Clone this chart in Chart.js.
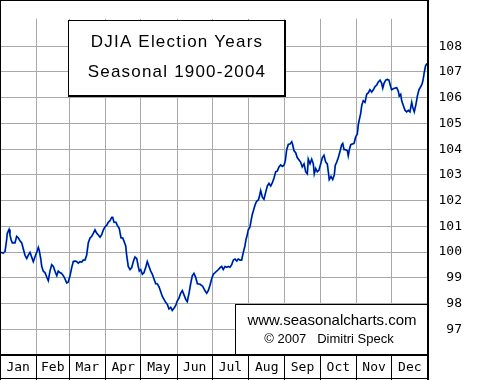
<!DOCTYPE html>
<html><head><meta charset="utf-8">
<script src="https://cdn.jsdelivr.net/npm/chart.js@4"></script>
<style>html,body{margin:0;padding:0;background:#fff;overflow:hidden}</style>
</head><body>
<canvas id="c" width="480" height="380"></canvas>
<script>
const monthLabels = ['Jan','Feb','Mar','Apr','May','Jun','Jul','Aug','Sep','Oct','Nov','Dec'];
const monthStarts = [0,31,59,90,120,151,181,212,243,273,304,334,365];
const yTickValues = [97,98,99,100,101,102,103,104,105,106,107,108];
const titleLines = ['DJIA Election Years','Seasonal 1900-2004'];
const creditLines = ['www.seasonalcharts.com','\u00A9 2007   Dimitri Speck'];

const days = [0.9,2.8,4.3,5.7,6.2,7.7,8.5,9.4,10.5,12.8,14.2,15.6,17.1,18.5,19.9,21.3,22.8,24.1,25.6,27.0,
28.4,29.8,31.3,32.7,33.5,34.7,35.6,36.9,38.4,39.8,41.2,42.6,44.1,45.5,46.9,48.4,49.7,51.2,52.6,54.0,
55.4,56.9,58.2,59.7,61.1,62.5,64.0,65.4,66.8,68.2,69.7,71.0,72.5,73.9,75.3,76.8,78.2,79.6,81.0,82.5,
83.8,85.3,86.7,88.1,89.5,91.0,92.4,93.8,95.3,
96.1,97.2,98.9,100.0,101.7,103.2,104.6,105.7,107.2,108.0,109.4,110.9,112.3,113.7,115.1,116.6,117.9,118.8,120.0,121.4,
122.8,124.5,125.6,127.1,128.5,129.9,131.3,132.8,134.1,135.6,137.0,138.4,139.9,141.3,142.7,144.1,145.6,146.9,148.4,149.8,
151.2,152.7,154.1,155.5,156.9,158.4,159.7,161.2,162.6,164.0,165.4,166.9,168.3,170.6,172.9,174.8,176.3,177.6,179.1,180.5,
181.9,183.4,184.8,186.2,187.6,189.1,190.4,191.9,193.3,194.7,196.1,197.6,199.0,200.4,201.9,203.2,204.7,
206.1,207.5,208.9,209.8,210.9,211.7,213.2,214.1,215.2,216.0,217.5,218.9,220.3,221.1,222.3,223.7,225.1,226.6,228.0,229.4,
230.9,232.2,233.7,235.1,236.5,237.9,239.4,240.7,242.2,243.3,244.5,245.9,247.3,248.8,249.6,250.7,252.2,253.5,255.0,256.4,
257.8,259.3,260.7,262.1,262.9,264.4,265.8,267.2,268.0,269.2,270.6,272.0,273.5,274.9,276.3,277.8,279.1,280.0,280.8,282.3,
283.7,285.1,285.9,287.1,288.5,290.0,291.4,292.3,293.4,294.8,296.2,297.0,297.9,299.1,300.4,301.9,303.3,304.7,305.6,306.4,
307.6,
308.5,309.8,311.3,312.7,314.1,315.5,317.0,318.4,319.8,321.2,322.6,324.1,325.5,326.4,327.5,328.9,330.3,331.7,333.2,334.0,
335.4,336.9,338.3,339.7,340.5,341.7,342.6,343.9,345.4,346.8,348.2,349.6,351.1,351.9,353.3,354.8,355.9,357.3,358.8,360.1,
361.0,361.8,363.0,364.4];

const values = [99.99,99.96,100.02,100.49,100.73,100.88,100.67,100.49,100.36,100.36,100.61,100.55,100.43,100.36,100.12,99.88,99.75,99.88,99.99,99.81,
99.63,99.81,99.99,100.18,100.06,99.75,99.44,99.26,99.20,99.04,98.89,99.26,99.51,99.44,99.26,99.08,99.26,99.20,99.17,99.08,
98.96,98.80,98.83,99.08,99.39,99.63,99.65,99.63,99.57,99.63,99.61,99.69,99.69,99.88,100.36,100.55,100.61,100.73,100.86,100.73,
100.67,100.58,100.67,100.86,100.98,101.04,101.16,101.22,101.35,
101.35,101.16,101.16,101.04,100.92,100.55,100.55,100.43,100.24,99.88,99.44,99.32,99.39,99.63,99.81,99.75,99.44,99.26,99.32,99.14,
99.20,99.44,99.63,99.44,99.26,99.14,98.96,98.77,98.77,98.65,98.47,98.28,98.16,98.04,97.97,97.79,97.85,97.73,97.82,97.92,
98.10,98.22,98.40,98.50,98.34,98.16,98.07,98.40,98.77,99.08,99.17,99.02,98.77,98.75,98.67,98.50,98.40,98.50,98.71,98.96,
99.14,99.20,99.26,99.32,99.39,99.44,99.32,99.44,99.41,99.44,99.41,99.51,99.69,99.73,99.65,99.73,99.69,
99.69,99.99,100.24,100.49,100.67,100.86,100.98,101.22,101.47,101.59,101.83,101.98,102.02,102.14,102.39,102.14,102.05,102.33,102.57,102.67,
102.57,102.69,102.88,103.12,103.15,103.31,103.39,103.33,103.37,103.55,103.98,104.19,104.20,104.29,104.17,103.94,103.86,103.67,103.58,103.49,
103.31,103.43,103.12,103.04,103.61,103.43,103.61,103.43,103.04,103.25,103.12,103.18,103.43,103.67,103.76,103.49,103.43,103.12,102.82,102.94,
102.82,103.00,103.37,103.49,103.67,103.92,104.17,104.22,103.98,103.98,103.94,103.74,103.98,104.17,104.20,104.22,104.47,104.59,104.96,105.14,
105.39,
105.70,105.88,105.82,106.13,106.19,106.31,106.22,106.31,106.43,106.49,106.61,106.68,106.56,106.37,106.56,106.68,106.71,106.68,106.43,106.31,
106.35,106.37,106.39,106.25,106.06,106.13,105.88,105.70,105.51,105.45,105.51,105.45,105.82,105.64,105.45,105.76,106.06,106.31,106.43,106.55,
106.74,106.98,107.25,107.33];

const points = days.map((d, i) => ({x: d, y: values[i]}));
const monthMids = monthLabels.map((m, i) => (monthStarts[i] + monthStarts[i + 1]) / 2);
const xTickValues = monthStarts.concat(monthMids).sort((a, b) => a - b);
const isBoundary = v => monthStarts.includes(v);

const frame = {
  id: 'frame',
  beforeDraw(chart) {
    const c = chart.ctx;
    c.save();
    c.fillStyle = '#fff';
    c.fillRect(0, 0, chart.width, chart.height);
    c.restore();
  },
  afterDraw(chart) {
    const c = chart.ctx, a = chart.chartArea;
    const R = Math.round(a.right), B = Math.round(a.bottom);
    c.save();
    c.fillStyle = '#000';
    // plot frame
    c.fillRect(0, 0, R, 1);
    c.fillRect(0, 0, 1, chart.height);
    c.fillRect(R - 1, 0, 2, chart.height);
    c.fillRect(0, B - 1, R + 1, 2);
    c.fillRect(0, chart.height - 2, R + 1, 1);
    // title box
    const tx = 68, ty = 20, tw = 218, th = 77;
    c.fillStyle = '#fff';
    c.fillRect(tx, ty, tw, th);
    c.fillStyle = '#000';
    c.fillRect(tx, ty, tw, 1);
    c.fillRect(tx, ty, 1, th);
    c.fillRect(tx + tw - 2, ty, 2, th);
    c.fillRect(tx, ty + th - 2, tw, 2);
    c.font = '17px "Liberation Sans", Arial, sans-serif';
    c.letterSpacing = '1.2px';
    c.textAlign = 'center';
    c.textBaseline = 'alphabetic';
    c.fillText(titleLines[0], tx + tw / 2, 47);
    c.fillText(titleLines[1], tx + tw / 2, 77);
    // credit box
    const cx = 235, cy = 304;
    c.fillStyle = '#fff';
    c.fillRect(cx, cy, R - 1 - cx, B - 1 - cy);
    c.fillStyle = '#000';
    c.fillRect(cx, cy, R - cx, 1);
    c.fillRect(cx, cy, 1, B - cy);
    c.letterSpacing = '0px';
    c.font = '15px "Liberation Sans", Arial, sans-serif';
    c.fillText(creditLines[0], 332, 325);
    c.font = '13px "Liberation Sans", Arial, sans-serif';
    c.fillText(creditLines[1], 329, 343);
    c.restore();
  }
};

new Chart(document.getElementById('c'), {
  type: 'line',
  data: {
    datasets: [
      {data: points, borderColor: '#0000a8', borderWidth: 1.2, pointRadius: 0, tension: 0, fill: false},
      {data: points, borderColor: '#22a8d0', borderWidth: 1.9, pointRadius: 0, tension: 0, fill: false}
    ]
  },
  options: {
    responsive: false,
    animation: false,
    devicePixelRatio: 1,
    layout: {padding: {left: 0, top: 0, bottom: 0, right: 18}},
    plugins: {legend: {display: false}, tooltip: {enabled: false}, title: {display: false}},
    scales: {
      x: {
        type: 'linear', position: 'bottom', min: 0, max: 365,
        afterBuildTicks: s => { s.ticks = xTickValues.map(v => ({value: v})); },
        afterFit: s => { s.height = 25; },
        border: {display: false},
        grid: {
          color: ctx => (ctx.tick && isBoundary(ctx.tick.value)) ? '#a8a8a8' : 'rgba(0,0,0,0)',
          tickColor: ctx => (ctx.tick && isBoundary(ctx.tick.value)) ? '#000' : 'rgba(0,0,0,0)',
          tickLength: 25, drawTicks: true, lineWidth: 1
        },
        ticks: {
          autoSkip: false, maxRotation: 0, minRotation: 0, padding: -20,
          color: '#000', font: {family: '"DejaVu Sans Mono", monospace', size: 13},
          callback: v => { const i = monthMids.indexOf(v); return i >= 0 ? monthLabels[i] : ''; }
        }
      },
      y: {
        type: 'linear', position: 'right', min: 96, max: 109.066,
        afterBuildTicks: s => { s.ticks = yTickValues.map(v => ({value: v})); },
        afterFit: s => { s.width = 34; },
        border: {display: false},
        grid: {color: '#a8a8a8', drawTicks: false, lineWidth: 1},
        ticks: {
          crossAlign: 'far', padding: 11, color: '#000',
          font: {family: '"DejaVu Sans Mono", monospace', size: 13}
        }
      }
    }
  },
  plugins: [frame]
});
</script>
</body></html>
